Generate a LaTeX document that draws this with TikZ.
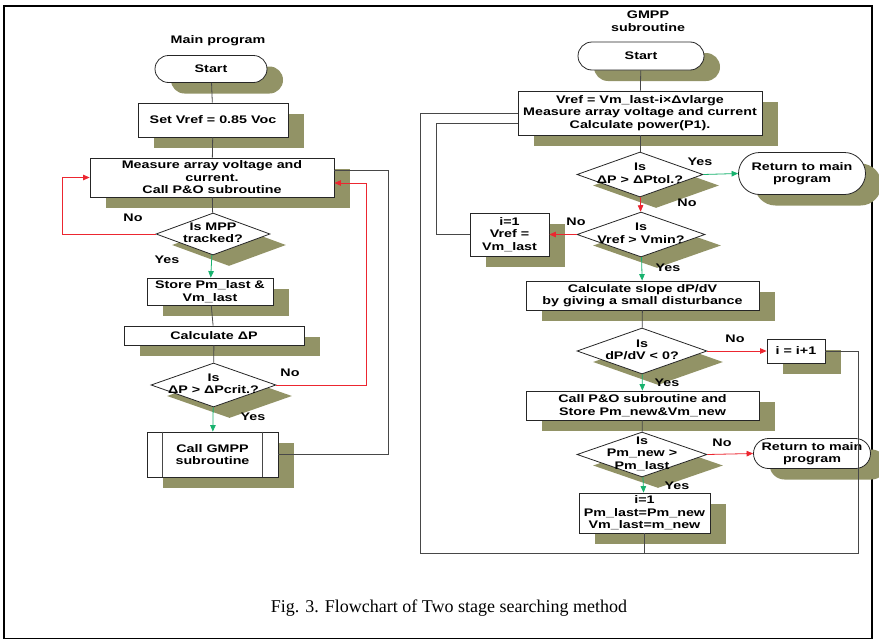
\documentclass[tikz,border=0pt]{standalone}
\usepackage{fontspec}
\setmainfont{Liberation Serif}
\newfontfamily\fcfont{Liberation Sans}[FakeStretch=1.3]
\definecolor{ShadowOlive}{RGB}{146,147,102}
\definecolor{NoRed}{RGB}{236,38,48}
\definecolor{YesGreen}{RGB}{24,178,110}
\definecolor{LineGrey}{RGB}{72,72,72}
\usetikzlibrary{arrows.meta,positioning,shapes.geometric,shapes.misc,shadows}
% text of a decision sits on the diamond's centre and does not size it
\newcommand{\dtxt}[1]{\raisebox{-2.5pt}[0pt][0pt]{\makebox[0pt]{\begin{tabular}{@{}c@{}}#1\end{tabular}}}}

\begin{document}
\begin{tikzpicture}[x=1pt,y=-1pt,
  every node/.style={font=\fcfont\bfseries\fontsize{11}{12.5}\selectfont},
  shadowed/.style={drop shadow={shadow xshift=16pt,shadow yshift=-11pt,opacity=1,fill=ShadowOlive}},
  proc/.style={draw=black!85,line width=0.8pt,fill=white,align=center,inner sep=1pt,shadowed},
  term/.style={proc,rounded rectangle},
  decision/.style={proc,diamond,inner sep=0pt},
  lbl/.style={inner sep=0pt},
  flow/.style={LineGrey,line width=0.8pt},
  yesarr/.style={YesGreen,line width=0.8pt,-{Triangle[length=6.5pt,width=5.5pt]}},
  noarr/.style={NoRed,line width=0.8pt,-{Triangle[length=6.5pt,width=5.5pt]}}]
  \useasboundingbox (0,0) rectangle (879,640);
  \draw[line width=1.6pt] (4,6) rectangle (872,638.5);

  % main program
  \node (maintitle) at (218,41) {Main program};
  \node[term,minimum width=114pt,minimum height=27pt] (start1) at (211,69) {Start};
  \node[proc,minimum width=150pt,minimum height=34pt] (vref1) at (213,120) {Set Vref = 0.85 Voc};
  \node[proc,minimum width=244pt,minimum height=39pt] (meas) at (212,177.5)
    {Measure array voltage and\\current.\\Call P\&O subroutine};
  \node[decision,minimum width=114pt,minimum height=42pt] (mpp) at (213,234)
    {\dtxt{Is MPP\\tracked?}};
  \node[proc,minimum width=126pt,minimum height=27pt] (store) at (210,291.5)
    {Store Pm\_last \&\\Vm\_last};
  \node[proc,minimum width=180pt,minimum height=19pt] (calcdp) at (214,335.5) {Calculate ΔP};
  \node[decision,minimum width=125pt,minimum height=44pt] (crit) at (213.5,385)
    {\dtxt{Is\\ΔP > ΔPcrit.?}};
  \node[proc,minimum width=131pt,minimum height=45pt] (gmpp) at (212.5,454.5)
    {Call GMPP\\subroutine};
  \draw[flow] ([xshift=16pt]gmpp.north west) -- ([xshift=16pt]gmpp.south west);
  \draw[flow] ([xshift=-16pt]gmpp.north east) -- ([xshift=-16pt]gmpp.south east);

  \node[lbl] (no1) at (133,218) {No};
  \node[lbl] (yes1) at (167,260) {Yes};
  \node[lbl] (no2) at (290,373) {No};
  \node[lbl] (yes2) at (253,417) {Yes};

  \draw[flow] (start1) -- (vref1);
  \draw[flow] (vref1) -- (meas);
  \draw[flow] (meas) -- (mpp);
  \draw[yesarr] (mpp) -- (store);
  \draw[noarr] (mpp.west) -- ++(-93,0) |- (meas.west);
  \draw[flow] (store) -- (calcdp);
  \draw[flow] (calcdp) -- (crit);
  \draw[noarr] (crit.east) -- ++(90,0) |- ([yshift=-5.5pt]meas.east);
  \draw[yesarr] (crit) -- (gmpp);
  \draw[flow] (gmpp.east) -- ++(110,0) |- ([yshift=7.5pt]meas.east);

  % GMPP subroutine
  \node[align=center] (subtitle) at (648,21) {GMPP\\subroutine};
  \node[term,minimum width=128pt,minimum height=28pt] (start2) at (641,56) {Start};
  \node[proc,minimum width=244pt,minimum height=44pt] (vref2) at (640,113)
    {Vref = Vm\_last-i×Δvlarge\\Measure array voltage and current\\Calculate power(P1).};
  \node[decision,minimum width=126pt,minimum height=45pt] (tol) at (640,174.5)
    {\dtxt{Is\\ΔP > ΔPtol.?}};
  \node[term,minimum width=129pt,minimum height=42pt] (ret1) at (802,173.5)
    {Return to main\\program};
  \node[decision,minimum width=128pt,minimum height=45pt] (vmin) at (641,234.5)
    {\dtxt{Is\\Vref > Vmin?}};
  \node[proc,minimum width=79pt,minimum height=43pt] (reset) at (509.5,234.5)
    {i=1\\Vref =\\Vm\_last};
  \node[proc,minimum width=233pt,minimum height=29pt] (slope) at (642.5,295.5)
    {Calculate slope dP/dV\\by giving a small disturbance};
  \node[decision,minimum width=130pt,minimum height=46pt] (neg) at (642,351)
    {\dtxt{Is\\dP/dV < 0?}};
  \node[proc,minimum width=58pt,minimum height=24pt] (inc) at (796,351) {i = i+1};
  \node[proc,minimum width=233pt,minimum height=29pt] (po) at (642.5,405.5)
    {Call P\&O subroutine and\\Store Pm\_new\&Vm\_new};
  \node[decision,minimum width=130pt,minimum height=45pt] (newgt) at (642,454.5)
    {\dtxt{Is\\Pm\_new >\\Pm\_last}};
  \node[term,minimum width=119pt,minimum height=30pt] (ret2) at (812,453.5)
    {Return to main\\program};
  \node[proc,minimum width=131pt,minimum height=40pt] (upd) at (644.5,513)
    {i=1\\Pm\_last=Pm\_new\\Vm\_last=m\_new};

  \node[lbl] (yes3) at (700,162) {Yes};
  \node[lbl] (no3) at (687,203) {No};
  \node[lbl] (no4) at (576,222) {No};
  \node[lbl] (yes4) at (668,268) {Yes};
  \node[lbl] (no5) at (735,339) {No};
  \node[lbl] (yes5) at (667,383) {Yes};
  \node[lbl] (no6) at (722,443) {No};
  \node[lbl] (yes6) at (677,486) {Yes};

  \coordinate (loopbr) at (858,553);
  \coordinate (loopbl) at (420,553);

  \draw[flow] (start2) -- (vref2);
  \draw[flow] (vref2) -- (tol);
  \draw[yesarr] (tol.east) -- (ret1.west);
  \draw[noarr] (tol) -- (vmin);
  \draw[noarr] (vmin.west) -- (reset.east);
  \draw[flow] (reset.west) -- ++(-33,0) |- ([yshift=-10pt]vref2.west);
  \draw[yesarr] (vmin) -- (slope);
  \draw[flow] (slope) -- (neg);
  \draw[noarr] (neg.east) -- (inc.west);
  \draw[yesarr] (neg) -- (po);
  \draw[flow] (po) -- (newgt);
  \draw[noarr] (newgt.east) -- (ret2.west);
  \draw[yesarr] (newgt) -- (upd);
  \draw[flow] (inc.east) -| (loopbr) -- (loopbl) |- (vref2.west);
  \draw[flow] (upd.south) -- (upd.south |- loopbl);

  \node[font=\fontsize{18}{21}\selectfont] (caption) at (449,608)
    {Fig. 3. Flowchart of Two stage searching method};
\end{tikzpicture}
\end{document}
